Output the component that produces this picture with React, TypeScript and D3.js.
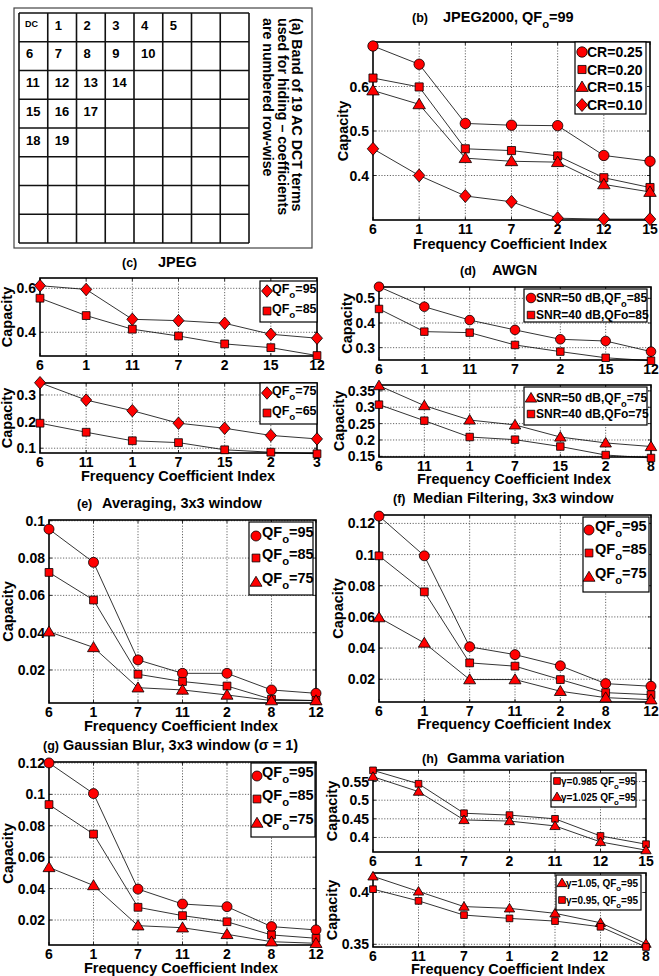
import React from 'react'
import * as d3 from 'd3'

const FONT = '"Liberation Sans", Arial, Helvetica, sans-serif'
const RED = '#ff0000'

// (a) band of AC DCT coefficients, numbered row-wise
const bandRows = [
  ['DC', '1', '2', '3', '4', '5'],
  ['6', '7', '8', '9', '10'],
  ['11', '12', '13', '14'],
  ['15', '16', '17'],
  ['18', '19'],
]
const captionLines = ['(a) Band of 19 AC DCT terms', 'used for hiding \u2013 coefficients', 'are numbered row-wise']

// (b) JPEG2000
const bCats = ['6', '1', '11', '7', '2', '12', '15']
const bCR25 = [0.691, 0.65, 0.517, 0.513, 0.512, 0.445, 0.432]
const bCR20 = [0.619, 0.599, 0.46, 0.456, 0.444, 0.395, 0.373]
const bCR15 = [0.591, 0.56, 0.439, 0.432, 0.43, 0.38, 0.363]
const bCR10 = [0.46, 0.4, 0.354, 0.341, 0.304, 0.302, 0.302]
const bTicks = [0.4, 0.5, 0.6]

// (c) JPEG
const cUpCats = ['6', '1', '11', '7', '2', '15', '12']
const cQF95 = [0.612, 0.595, 0.459, 0.453, 0.441, 0.391, 0.373]
const cQF85 = [0.555, 0.476, 0.414, 0.383, 0.347, 0.33, 0.294]
const cUpTicks = [0.4, 0.6]
const cLoCats = ['6', '11', '1', '7', '15', '2', '3']
const cQF75 = [0.346, 0.281, 0.241, 0.194, 0.175, 0.148, 0.135]
const cQF65 = [0.194, 0.16, 0.128, 0.121, 0.094, 0.085, 0.079]
const cLoTicks = [0.1, 0.2, 0.3]

// (d) AWGN
const dUpCats = ['6', '1', '11', '7', '2', '15', '12']
const dSNR50a = [0.547, 0.466, 0.412, 0.372, 0.334, 0.327, 0.284]
const dSNR40a = [0.457, 0.365, 0.361, 0.311, 0.284, 0.259, 0.247]
const dUpTicks = [0.3, 0.4, 0.5]
const dLoCats = ['6', '11', '1', '7', '15', '2', '8']
const dSNR50b = [0.366, 0.305, 0.261, 0.246, 0.209, 0.191, 0.18]
const dSNR40b = [0.308, 0.259, 0.209, 0.201, 0.18, 0.154, 0.145]
const dLoTicks = [0.15, 0.2, 0.25, 0.3, 0.35]

// (e) averaging
const eCats = ['6', '1', '7', '11', '2', '8', '12']
const eQF95 = [0.0955, 0.0777, 0.0254, 0.0182, 0.0182, 0.0093, 0.0075]
const eQF85 = [0.0723, 0.0575, 0.0177, 0.0138, 0.0114, 0.0043, 0.0036]
const eQF75 = [0.0405, 0.0321, 0.0105, 0.0093, 0.0066, 0.0036, 0.0036]
const eTicks = [0.02, 0.04, 0.06, 0.08, 0.1]

// (f) median filtering
const fCats = ['6', '1', '7', '11', '2', '8', '12']
const fQF95 = [0.1247, 0.0992, 0.0408, 0.0358, 0.0286, 0.0172, 0.0155]
const fQF85 = [0.0992, 0.0761, 0.0305, 0.0284, 0.0198, 0.0114, 0.0101]
const fQF75 = [0.0596, 0.0433, 0.0198, 0.0198, 0.0123, 0.0082, 0.0069]
const fTicks = [0.02, 0.04, 0.06, 0.08, 0.1, 0.12]

// (g) gaussian blur
const gCats = ['6', '1', '7', '11', '2', '8', '12']
const gQF95 = [0.12, 0.1005, 0.0397, 0.0302, 0.0285, 0.0158, 0.0137]
const gQF85 = [0.0935, 0.0747, 0.0281, 0.0228, 0.0189, 0.0105, 0.0084]
const gQF75 = [0.0535, 0.042, 0.0164, 0.0151, 0.0109, 0.0062, 0.0052]
const gTicks = [0.02, 0.04, 0.06, 0.08, 0.1, 0.12]

// (h) gamma variation
const hUpCats = ['6', '1', '7', '2', '11', '12', '15']
const hG0985 = [0.58, 0.544, 0.465, 0.46, 0.45, 0.404, 0.382]
const hG1025 = [0.563, 0.523, 0.447, 0.444, 0.431, 0.388, 0.366]
const hUpTicks = [0.4, 0.45, 0.5, 0.55]
const hLoCats = ['6', '11', '7', '1', '2', '12', '8']
const hG105 = [0.4156, 0.401, 0.3864, 0.3847, 0.3799, 0.3708, 0.3506]
const hG095 = [0.4032, 0.3919, 0.3782, 0.375, 0.3724, 0.3669, 0.3474]
const hLoTicks = [0.35, 0.4]

type Marker = 'o' | 's' | '^' | 'd'
type Series = { name: string; values: number[]; marker: Marker }
type Legend = { x: number; y: number; w: number; h: number; rows: number[]; mx: number; tx: number; fs: number; dy: number }
type Plot = {
  x0: number; x1: number; y0: number; y1: number
  cats: string[]; series: Series[]; domain: [number, number]; ticks: number[]
  ylabX: number; ms: number; legend: Legend
}

const qf = (v: number[][], names: string[], marks: Marker[]): Series[] =>
  v.map((values, i) => ({ name: names[i], values, marker: marks[i] }))

const plots: Plot[] = [
  {
    x0: 373, x1: 650, y0: 42, y1: 220, cats: bCats, domain: [0.3, 0.7], ticks: bTicks, ylabX: 348, ms: 5.2,
    series: qf([bCR25, bCR20, bCR15, bCR10], ['CR=0.25', 'CR=0.20', 'CR=0.15', 'CR=0.10'], ['o', 's', '^', 'd']),
    legend: { x: 575, y: 42, w: 71, h: 72, rows: [52, 69.5, 87, 105], mx: 582, tx: 587, fs: 14, dy: 5 },
  },
  {
    x0: 40, x1: 317, y0: 278, y1: 356, cats: cUpCats, domain: [0.292, 0.647], ticks: cUpTicks, ylabX: 12, ms: 5,
    series: qf([cQF95, cQF85], ['QF_o=95', 'QF_o=85'], ['d', 's']),
    legend: { x: 260, y: 281, w: 57, h: 41, rows: [291, 311], mx: 267, tx: 272, fs: 12.5, dy: 2 },
  },
  {
    x0: 40, x1: 317, y0: 383, y1: 453, cats: cLoCats, domain: [0.082, 0.345], ticks: cLoTicks, ylabX: 12, ms: 5,
    series: qf([cQF75, cQF65], ['QF_o=75', 'QF_o=65'], ['d', 's']),
    legend: { x: 260, y: 383, w: 57, h: 41, rows: [393, 413], mx: 267, tx: 272, fs: 12.5, dy: 2 },
  },
  {
    x0: 379, x1: 651, y0: 287, y1: 360, cats: dUpCats, domain: [0.25, 0.546], ticks: dUpTicks, ylabX: 352, ms: 4.8,
    series: qf([dSNR50a, dSNR40a], ['SNR=50 dB,QF_o=85', 'SNR=40 dB,QFo=85'], ['o', 's']),
    legend: { x: 524, y: 289, w: 123, h: 33, rows: [298, 315], mx: 531, tx: 536, fs: 12, dy: 3.5 },
  },
  {
    x0: 379, x1: 651, y0: 385, y1: 457, cats: dLoCats, domain: [0.148, 0.368], ticks: dLoTicks, ylabX: 344, ms: 4.8,
    series: qf([dSNR50b, dSNR40b], ['SNR=50 dB,QF_o=75', 'SNR=40 dB,QFo=75'], ['^', 's']),
    legend: { x: 524, y: 387, w: 123, h: 38, rows: [398, 414], mx: 531, tx: 536, fs: 12, dy: 3.5 },
  },
  {
    x0: 49, x1: 316, y0: 520, y1: 703, cats: eCats, domain: [0.0023, 0.1004], ticks: eTicks, ylabX: 13, ms: 5,
    series: qf([eQF95, eQF85, eQF75], ['QF_o=95', 'QF_o=85', 'QF_o=75'], ['o', 's', '^']),
    legend: { x: 249, y: 522, w: 64, h: 73, rows: [536, 558, 582], mx: 256, tx: 262, fs: 14.5, dy: 1 },
  },
  {
    x0: 379, x1: 651, y0: 515, y1: 702, cats: fCats, domain: [0.0054, 0.1254], ticks: fTicks, ylabX: 343, ms: 5,
    series: qf([fQF95, fQF85, fQF75], ['QF_o=95', 'QF_o=85', 'QF_o=75'], ['o', 's', '^']),
    legend: { x: 583, y: 517, w: 66, h: 75, rows: [530, 553, 577], mx: 589, tx: 595, fs: 14.5, dy: 1 },
  },
  {
    x0: 49, x1: 316, y0: 762, y1: 945, cats: gCats, domain: [0.0041, 0.1206], ticks: gTicks, ylabX: 13, ms: 5,
    series: qf([gQF95, gQF85, gQF75], ['QF_o=95', 'QF_o=85', 'QF_o=75'], ['o', 's', '^']),
    legend: { x: 251, y: 763, w: 64, h: 74, rows: [776, 799, 823], mx: 257, tx: 262, fs: 14.5, dy: 1 },
  },
  {
    x0: 373, x1: 646, y0: 770, y1: 852, cats: hUpCats, domain: [0.361, 0.581], ticks: hUpTicks, ylabX: 337, ms: 4.3,
    series: qf([hG0985, hG1025], ['\u03b3=0.985 QF_o=95', '\u03b3=1.025 QF_o=95'], ['s', '^']),
    legend: { x: 551, y: 773, w: 85, h: 34, rows: [781, 797], mx: 557, tx: 561, fs: 10, dy: 3.5 },
  },
  {
    x0: 373, x1: 646, y0: 873, y1: 947, cats: hLoCats, domain: [0.3474, 0.4188], ticks: hLoTicks, ylabX: 337, ms: 4.3,
    series: qf([hG105, hG095], ['\u03b3=1.05, QF_o=95', '\u03b3=0.95, QF_o=95'], ['^', 's']),
    legend: { x: 556, y: 875, w: 85, h: 35, rows: [883, 900], mx: 562, tx: 566, fs: 10, dy: 3.5 },
  },
]

const titles = [
  { tag: '(b)', tx: 412, text: 'JPEG2000, QF_o=99', x: 443, y: 22 },
  { tag: '(c)', tx: 122, text: 'JPEG', x: 158, y: 267 },
  { tag: '(d)', tx: 460, text: 'AWGN', x: 492, y: 275 },
  { tag: '(e)', tx: 77, text: 'Averaging, 3x3 window', x: 102, y: 508 },
  { tag: '(f)', tx: 393, text: 'Median Filtering, 3x3 window', x: 413, y: 503 },
  { tag: '(g)', tx: 43, text: 'Gaussian Blur, 3x3 window (\u03c3 = 1)', x: 63, y: 750 },
  { tag: '(h)', tx: 422, text: 'Gamma variation', x: 447, y: 763 },
]

const xLabels = [
  { x: 510, y: 249 },
  { x: 178, y: 481 },
  { x: 514, y: 484 },
  { x: 181, y: 731 },
  { x: 514, y: 729 },
  { x: 181, y: 973 },
  { x: 508, y: 974 },
]

const fmt = d3.format('~g')

function markerPath(m: Marker, s: number): string {
  if (m === 'o') return `M${s},0A${s},${s},0,1,1,${-s},0A${s},${s},0,1,1,${s},0Z`
  if (m === 's') {
    const h = s * 0.78
    return `M${-h},${-h}H${h}V${h}H${-h}Z`
  }
  if (m === '^') return `M0,${-s * 1.15}L${s * 1.2},${s * 0.85}L${-s * 1.2},${s * 0.85}Z`
  return `M0,${-s * 1.25}L${s * 1.1},0L0,${s * 1.25}L${-s * 1.1},0Z`
}

function Sub({ x, y, text, fs, anchor = 'start' }: { x: number; y: number; text: string; fs: number; anchor?: string }) {
  const i = text.indexOf('_o')
  if (i < 0) return <text x={x} y={y} fontSize={fs} textAnchor={anchor}>{text}</text>
  const dy = fs * 0.42
  return (
    <text x={x} y={y} fontSize={fs} textAnchor={anchor}>
      {text.slice(0, i)}
      <tspan dy={dy} fontSize={fs * 0.78}>o</tspan>
      <tspan dy={-dy}>{text.slice(i + 2)}</tspan>
    </text>
  )
}

function Chart({ p }: { p: Plot }) {
  const x = d3.scalePoint<string>().domain(p.cats).range([p.x0, p.x1])
  const y = d3.scaleLinear().domain(p.domain).range([p.y1, p.y0])
  const line = d3.line<number>().x((_, i) => x(p.cats[i])!).y((v) => y(v))
  const L = p.legend
  return (
    <g>
      {p.cats.slice(1, -1).map((c) => (
        <line key={'gx' + c} x1={x(c)} x2={x(c)} y1={p.y0} y2={p.y1} stroke="#000" strokeWidth={0.6} strokeDasharray="1.2 1.6" />
      ))}
      {p.ticks.map((t) => (
        <line key={'gy' + t} x1={p.x0} x2={p.x1} y1={y(t)} y2={y(t)} stroke="#000" strokeWidth={0.6} strokeDasharray="1.2 1.6" />
      ))}
      {p.cats.map((c) => (
        <g key={'tx' + c} stroke="#000" strokeWidth={0.8}>
          <line x1={x(c)} x2={x(c)} y1={p.y1} y2={p.y1 - 3} />
          <line x1={x(c)} x2={x(c)} y1={p.y0} y2={p.y0 + 3} />
        </g>
      ))}
      {p.ticks.map((t) => (
        <g key={'ty' + t} stroke="#000" strokeWidth={0.8}>
          <line x1={p.x0} x2={p.x0 + 3} y1={y(t)} y2={y(t)} />
          <line x1={p.x1} x2={p.x1 - 3} y1={y(t)} y2={y(t)} />
        </g>
      ))}
      <rect x={p.x0} y={p.y0} width={p.x1 - p.x0} height={p.y1 - p.y0} fill="none" stroke="#000" strokeWidth={1.6} />
      {p.cats.map((c) => (
        <text key={'lx' + c} x={x(c)} y={p.y1 + 14} fontSize={14} textAnchor="middle">{c}</text>
      ))}
      {p.ticks.map((t) => (
        <text key={'ly' + t} x={p.x0 - 4} y={y(t) + 5} fontSize={14} textAnchor="end">{fmt(t)}</text>
      ))}
      <text transform={`translate(${p.ylabX},${(p.y0 + p.y1) / 2}) rotate(-90)`} fontSize={14.5} textAnchor="middle">Capacity</text>
      {p.series.map((s) => (
        <g key={s.name}>
          <path d={line(s.values) ?? ''} fill="none" stroke="#000" strokeWidth={0.8} />
          {s.values.map((v, i) => (
            <path key={i} d={markerPath(s.marker, p.ms)} transform={`translate(${x(p.cats[i])},${y(v)})`} fill={RED} stroke="#000" strokeWidth={0.8} />
          ))}
        </g>
      ))}
      <rect x={L.x} y={L.y} width={L.w} height={L.h} fill="#fff" stroke="#000" strokeWidth={1.2} />
      {p.series.map((s, i) => (
        <g key={'lg' + s.name}>
          <path d={markerPath(s.marker, p.ms)} transform={`translate(${L.mx},${L.rows[i]})`} fill={RED} stroke="#000" strokeWidth={0.8} />
          <Sub x={L.tx} y={L.rows[i] + L.dy} text={s.name} fs={L.fs} />
        </g>
      ))}
    </g>
  )
}

function Band() {
  const idx = d3.range(8)
  const gx = d3.scaleBand<number>().domain(idx).range([19, 249])
  const gy = d3.scaleBand<number>().domain(idx).range([13, 243])
  return (
    <g>
      <rect x={14} y={8} width={298} height={240} fill="none" stroke="#444" strokeWidth={1.2} />
      {d3.range(9).map((i) => (
        <g key={i} stroke="#111" strokeWidth={1.6}>
          <line x1={19 + i * gx.step()} x2={19 + i * gx.step()} y1={13} y2={243} />
          <line x1={19} x2={249} y1={13 + i * gy.step()} y2={13 + i * gy.step()} />
        </g>
      ))}
      {bandRows.map((row, r) =>
        row.map((lab, c) => (
          <text key={lab} x={gx(c)! + (lab === 'DC' ? 6 : 7)} y={gy(r)! + (lab === 'DC' ? 14 : 16.5)} fontSize={lab === 'DC' ? 9 : 13}>
            {lab}
          </text>
        ))
      )}
      {captionLines.map((t, i) => (
        <text key={t} transform={`translate(${292 - i * 14.5},18) rotate(90)`} fontSize={14.2}>{t}</text>
      ))}
    </g>
  )
}

export default function App() {
  return (
    <svg
      width={659}
      height={976}
      style={{ position: 'absolute', left: 0, top: 0, background: '#fff' }}
      fontFamily={FONT}
      fontWeight="bold"
    >
      <rect width={659} height={976} fill="#fff" />
      <Band />
      {plots.map((p, i) => (
        <Chart key={i} p={p} />
      ))}
      {titles.map((t) => (
        <g key={t.tag}>
          <text x={t.tx} y={t.y} fontSize={12.5}>{t.tag}</text>
          <Sub x={t.x} y={t.y} text={t.text} fs={14.5} />
        </g>
      ))}
      {xLabels.map((l, i) => (
        <text key={i} x={l.x} y={l.y} fontSize={14.5} textAnchor="middle">Frequency Coefficient Index</text>
      ))}
    </svg>
  )
}
